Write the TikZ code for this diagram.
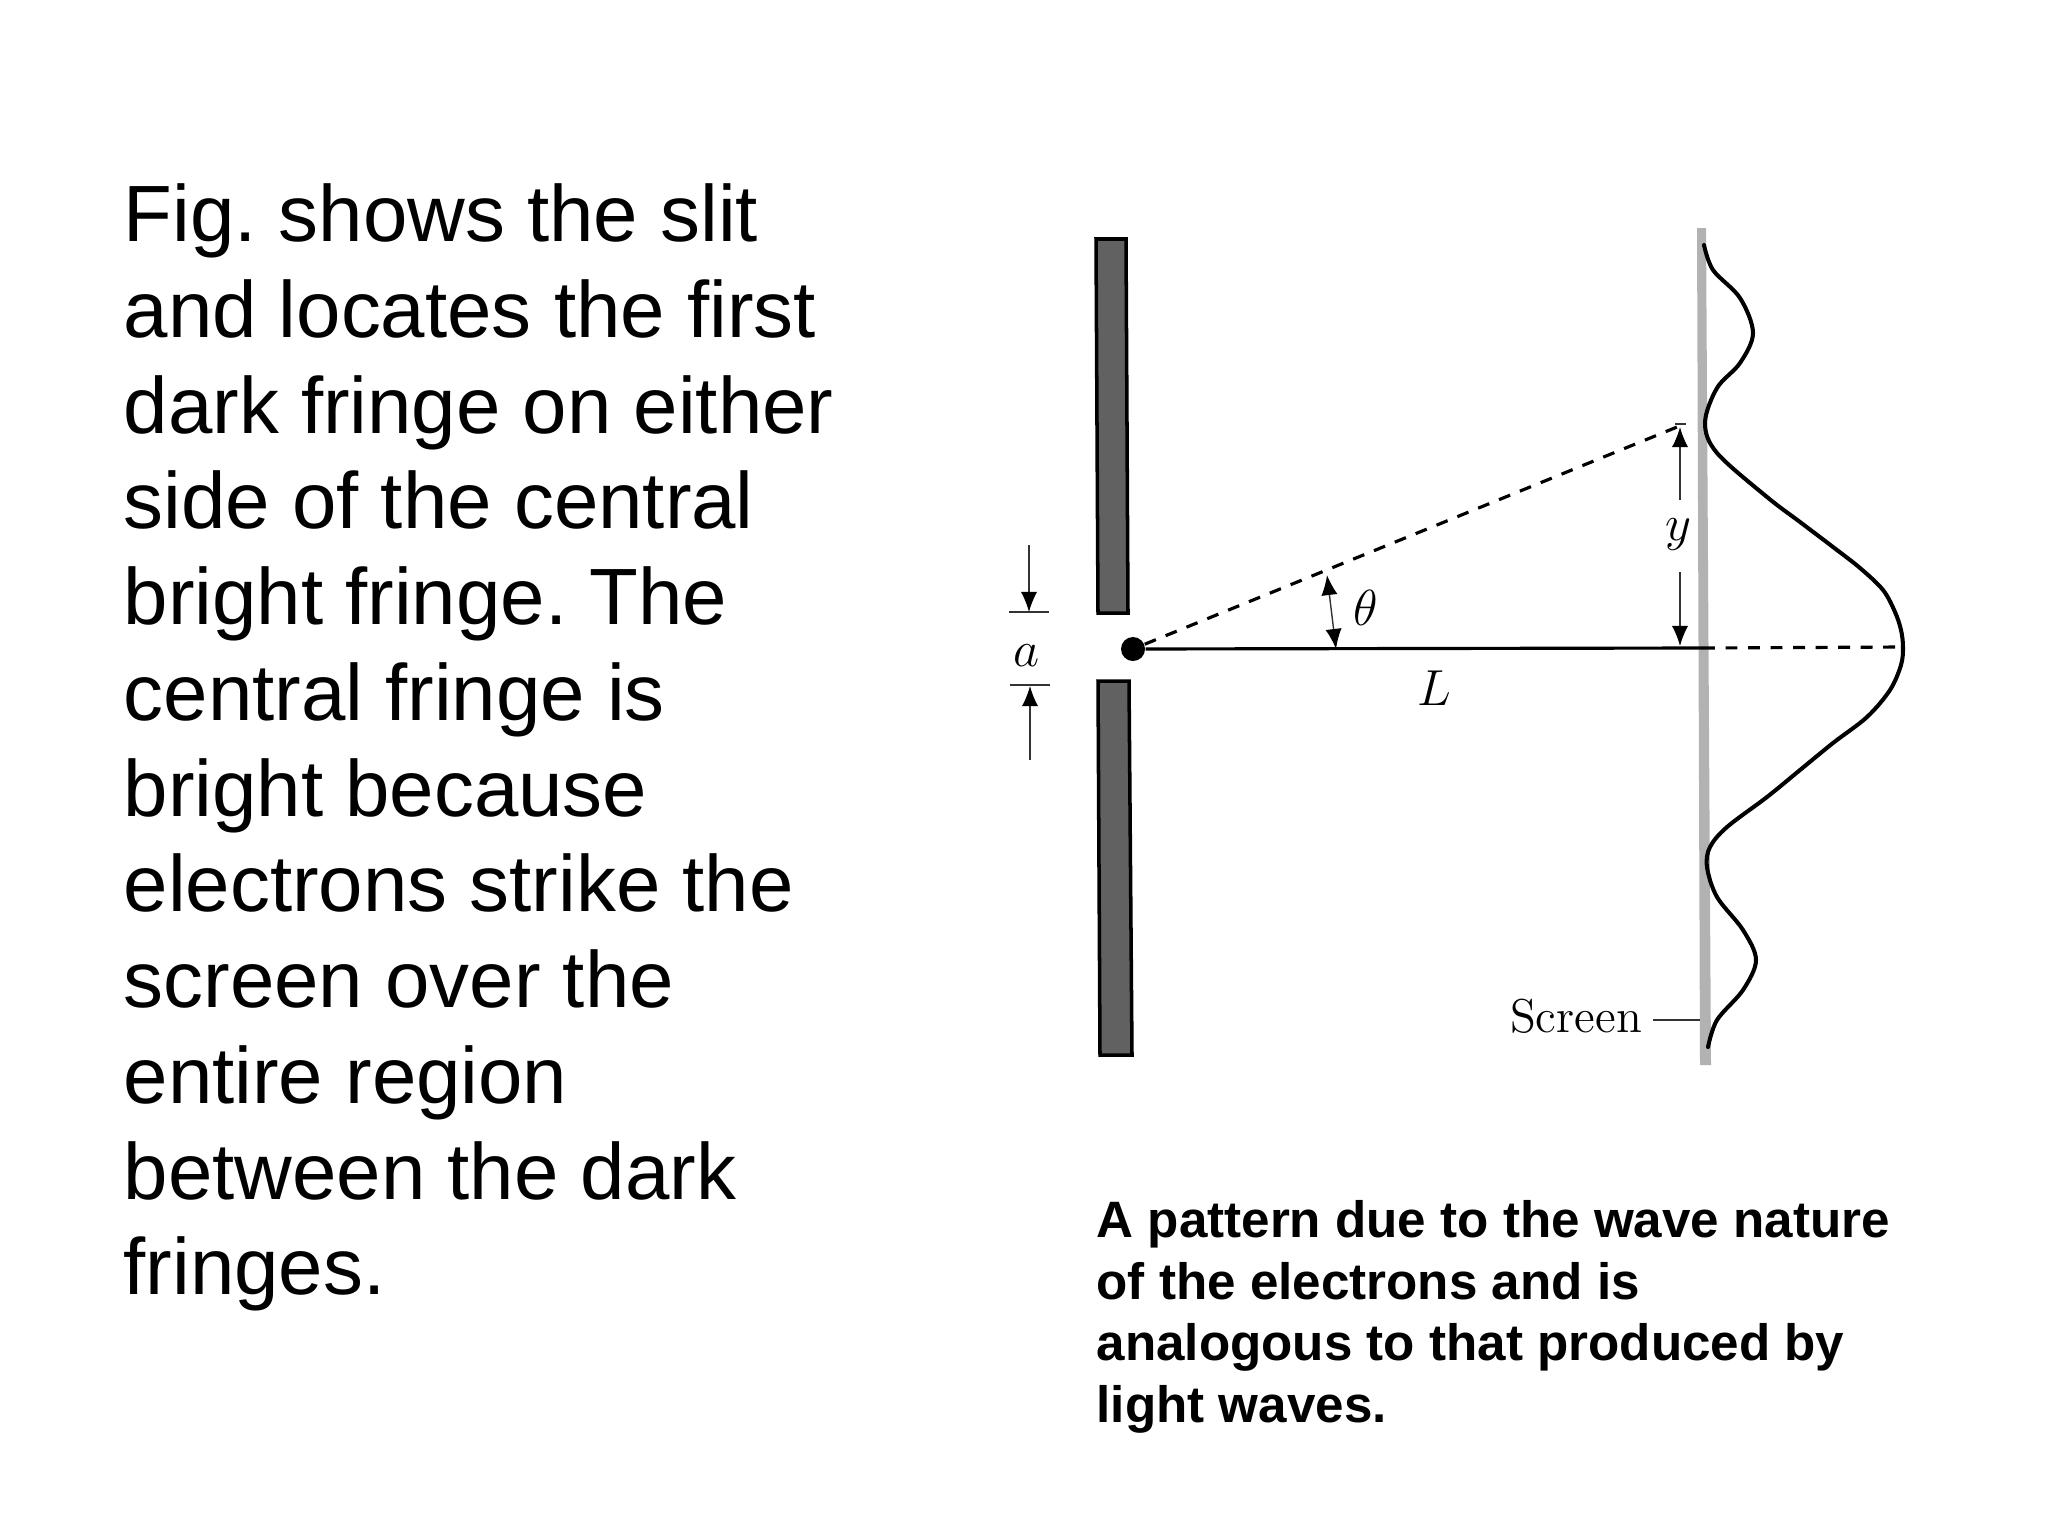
\documentclass[tikz,border=0pt]{standalone}
\usepackage{fontspec}
\usetikzlibrary{arrows.meta,positioning}
\newfontfamily\slidefont{Liberation Sans}

\begin{document}
\frenchspacing
\begin{tikzpicture}[
x=0.01cm,
y=-0.01cm,
bodytext/.style={
  anchor=north west,
  align=left,
  inner sep=0pt,
  font=\slidefont\fontsize{22.7}{27.23}\selectfont
  },
captext/.style={
  anchor=north west,
  align=left,
  inner sep=0pt,
  font=\slidefont\bfseries\fontsize{14.55}{17.5}\selectfont
  },
sym/.style={
  inner sep=0pt,
  font=\fontsize{15}{18}\selectfont
  },
wall/.style={
  draw=black,
  line width=1pt,
  fill=black!62
  },
dim/.style={
  draw=black!80,
  line width=0.4pt
  },
beam/.style={
  line width=0.9pt
  },
dashbeam/.style={
  line width=0.9pt,
  dash pattern=on 3.4pt off 3pt
  },
>={Latex[length=5.7pt,width=4.6pt,black]}
]
\useasboundingbox (0,0) rectangle (2048,1536);

\node[bodytext] (body) at (123,183)
{Fig. shows the slit\\
and locates the first\\
dark fringe on either\\
side of the central\\
bright fringe. The\\
central fringe is\\
bright because\\
electrons strike the\\
screen over the\\
entire region\\
between the dark\\
fringes.};

\node[captext] (cap) at (1096,1200)
{A pattern due to the wave nature\\
of the electrons and is\\
analogous to that produced by\\
light waves.};

% slit walls and screen
\draw[wall] (1096,239) -- (1126,239) -- (1128,613) -- (1098,613) -- cycle;
\draw[wall] (1098,681) -- (1129,681) -- (1132,1055) -- (1100,1055) -- cycle;
\fill[black!30] (1697,228) -- (1706,228) -- (1711,1065) -- (1700,1065) -- cycle;

% points on the rays
\node[circle, fill=black, inner sep=0pt, minimum size=0.24cm] (src) at (1133,649) {};
\coordinate (mid) at (1703,648);
\coordinate (peak) at (1903,647);
\coordinate (dark) at (1682,425);
\coordinate (ang) at (1327,575);
\coordinate (axis) at (1336,649);

\draw[beam] (src) -- (mid);
\draw[dashbeam] (mid) -- (peak);
\draw[dashbeam] (src) -- (dark);

% intensity curve
\draw[line width=1.15pt, line cap=round] plot[smooth, tension=0.55] coordinates {
  (1704,245) (1713,270) (1740,298) (1753,333) (1740,363) (1717,388)
  (1705,423) (1717,453) (1767,497) (1800,522) (1833,547) (1860,568)
  (1883,590) (1895,612) (1901,630) (1903,647) (1901,665) (1890,690)
  (1867,717) (1833,743) (1800,770) (1767,797) (1727,827) (1710,847) (1707,867)
  (1717,897) (1743,930) (1756,960) (1743,990) (1717,1020) (1708,1047)};

% slit width
\coordinate (atop) at (1029,545);
\coordinate (abot) at (1030,760);
\coordinate (atipa) at (1029,612);
\coordinate (atipb) at (1030,686);
\draw[dim] (1009,612) -- (1049,612);
\draw[dim] (1010,685) -- (1050,685);
\draw[dim,->] (atop) -- (atipa);
\draw[dim,->] (abot) -- (atipb);
\node[sym] (a) at (1027,656) {$a$};

% angle
\draw[dim,<->] (ang) -- (axis);
\node[sym] (th) at (1366,608) {$\theta$};
\node[sym] (L) at (1434,688) {$L$};

% distance on the screen
\coordinate (ytop) at (1680,500);
\coordinate (ybot) at (1680,572);
\coordinate (ytipa) at (1680,427);
\coordinate (ytipb) at (1680,646);
\draw[dim] (1675,424) -- (1686,424);
\draw[dim,->] (ytop) -- (ytipa);
\draw[dim,->] (ybot) -- (ytipb);
\node[sym] (yl) at (1678,535) {$y$};

% screen label
\node[inner sep=0pt, font=\fontsize{13.5}{16}\selectfont] (scr) at (1576,1016) {Screen};
\coordinate (scrend) at (1700,1020);
\draw[dim] (1653,1020) -- (scrend);

\end{tikzpicture}
\end{document}
